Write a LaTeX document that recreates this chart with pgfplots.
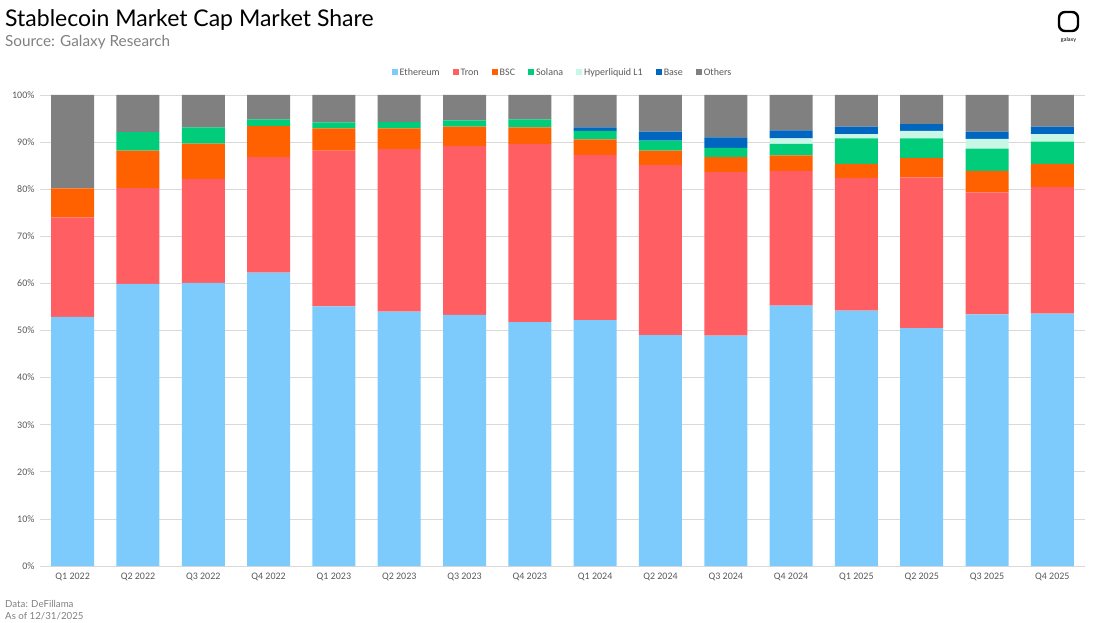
\documentclass[border=0pt]{standalone}
\usepackage{pgfplots}
\usepackage{pgfplotstable}
\pgfplotsset{compat=1.18}
\usepackage{fontspec}
\setmainfont{Carlito}
\newfontfamily\titlefont{Lato}
\definecolor{eth}{HTML}{7DCBFD}
\definecolor{tron}{HTML}{FF5E62}
\definecolor{bsc}{HTML}{FF6000}
\definecolor{sol}{HTML}{00CC7A}
\definecolor{hyper}{HTML}{C9F7E6}
\definecolor{base}{HTML}{0066BF}
\definecolor{oth}{HTML}{808080}
\definecolor{gridc}{HTML}{D9D9D9}
\definecolor{tickc}{HTML}{595959}
\pgfplotstableread{
idx Eth Tron BSC Sol Hyper Base Oth
0 52.9 21.1 6.2 0 0 0 19.8
1 59.9 20.4 7.9 3.9 0 0 7.9
2 60.1 22.1 7.5 3.4 0 0 6.9
3 62.3 24.5 6.6 1.4 0 0 5.2
4 55.1 33.1 4.7 1.3 0 0 5.8
5 54.0 34.5 4.4 1.4 0 0 5.7
6 53.3 35.9 4.1 1.3 0 0 5.4
7 51.8 37.8 3.5 1.7 0 0 5.2
8 52.2 35.1 3.3 1.8 0 0.7 6.9
9 49.0 36.1 3.1 2.1 0 1.9 7.8
10 48.9 34.7 3.2 2.0 0 2.2 9.0
11 55.3 28.6 3.3 2.4 1.2 1.7 7.5
12 54.2 28.2 3.0 5.4 0.9 1.6 6.7
13 50.5 32.0 4.1 4.2 1.6 1.4 6.2
14 53.4 25.9 4.6 4.7 2.1 1.5 7.8
15 53.6 26.9 4.9 4.7 1.6 1.6 6.7
}\datatable
\begin{document}
\begin{tikzpicture}
\useasboundingbox (0pt,0pt) rectangle (1100pt,622pt);
\node[anchor=base west, inner sep=0pt] at (5pt,595pt) {\titlefont\fontsize{23}{26}\selectfont Stablecoin Market Cap Market Share};
\node[anchor=base west, inner sep=0pt, text=oth] at (5pt,575pt) {\titlefont\fontsize{15.3}{18}\selectfont Source: Galaxy Research};
\node[anchor=base west, inner sep=0pt, text=oth] at (5pt,15pt) {\titlefont\fontsize{9.7}{12}\selectfont Data: DeFillama};
\node[anchor=base west, inner sep=0pt, text=oth] at (5pt,3pt) {\titlefont\fontsize{9.7}{12}\selectfont As of 12/31/2025};
\draw[line width=2.4pt, rounded corners=6pt] (1059pt,591pt) rectangle (1078pt,610pt);
\node[anchor=base, inner sep=0pt] at (1068.5pt,580pt) {\titlefont\fontsize{5.5}{6}\selectfont galaxy};
\begin{axis}[
  at={(40pt,56pt)}, anchor=south west,
  scale only axis, width=1045pt, height=471pt,
  ybar stacked, bar width=43pt,
  xmin=-0.5, xmax=15.5, ymin=0, ymax=100,
  axis line style={draw=none},
  axis x line*=bottom,
  tick style={draw=none},
  ymajorgrids, grid style={gridc, line width=0.8pt},
  ytick={0,10,...,100},
  yticklabel={\pgfmathprintnumber{\tick}\%},
  xtick={0,...,15},
  xticklabels={Q1 2022,Q2 2022,Q3 2022,Q4 2022,Q1 2023,Q2 2023,Q3 2023,Q4 2023,Q1 2024,Q2 2024,Q3 2024,Q4 2024,Q1 2025,Q2 2025,Q3 2025,Q4 2025},
  /pgf/number format/assume math mode=true,
  ticklabel style={font=\fontsize{10}{12}\selectfont, text=tickc},
  yticklabel style={xshift=-2pt},
  xticklabel style={yshift=-3pt},
  legend style={at={(0.5,1.049)}, anchor=center, draw=none, fill=none,
    legend columns=-1, font=\fontsize{10}{12}\selectfont, text=tickc,
    /tikz/every even column/.append style={column sep=11pt}},
  legend image code/.code={\fill[#1] (0pt,-3pt) rectangle (6pt,3pt);},
]
\addplot[fill=eth, draw=none] table[x=idx, y=Eth] {\datatable};
\addplot[fill=tron, draw=none] table[x=idx, y=Tron] {\datatable};
\addplot[fill=bsc, draw=none] table[x=idx, y=BSC] {\datatable};
\addplot[fill=sol, draw=none] table[x=idx, y=Sol] {\datatable};
\addplot[fill=hyper, draw=none] table[x=idx, y=Hyper] {\datatable};
\addplot[fill=base, draw=none] table[x=idx, y=Base] {\datatable};
\addplot[fill=oth, draw=none] table[x=idx, y=Oth] {\datatable};
\legend{\strut Ethereum,\strut Tron,\strut BSC,\strut Solana,\strut Hyperliquid L1,\strut Base,\strut Others}
\draw[gridc, line width=0.8pt] (axis cs:-0.5,0) -- (axis cs:15.5,0);
\end{axis}
\end{tikzpicture}
\end{document}
